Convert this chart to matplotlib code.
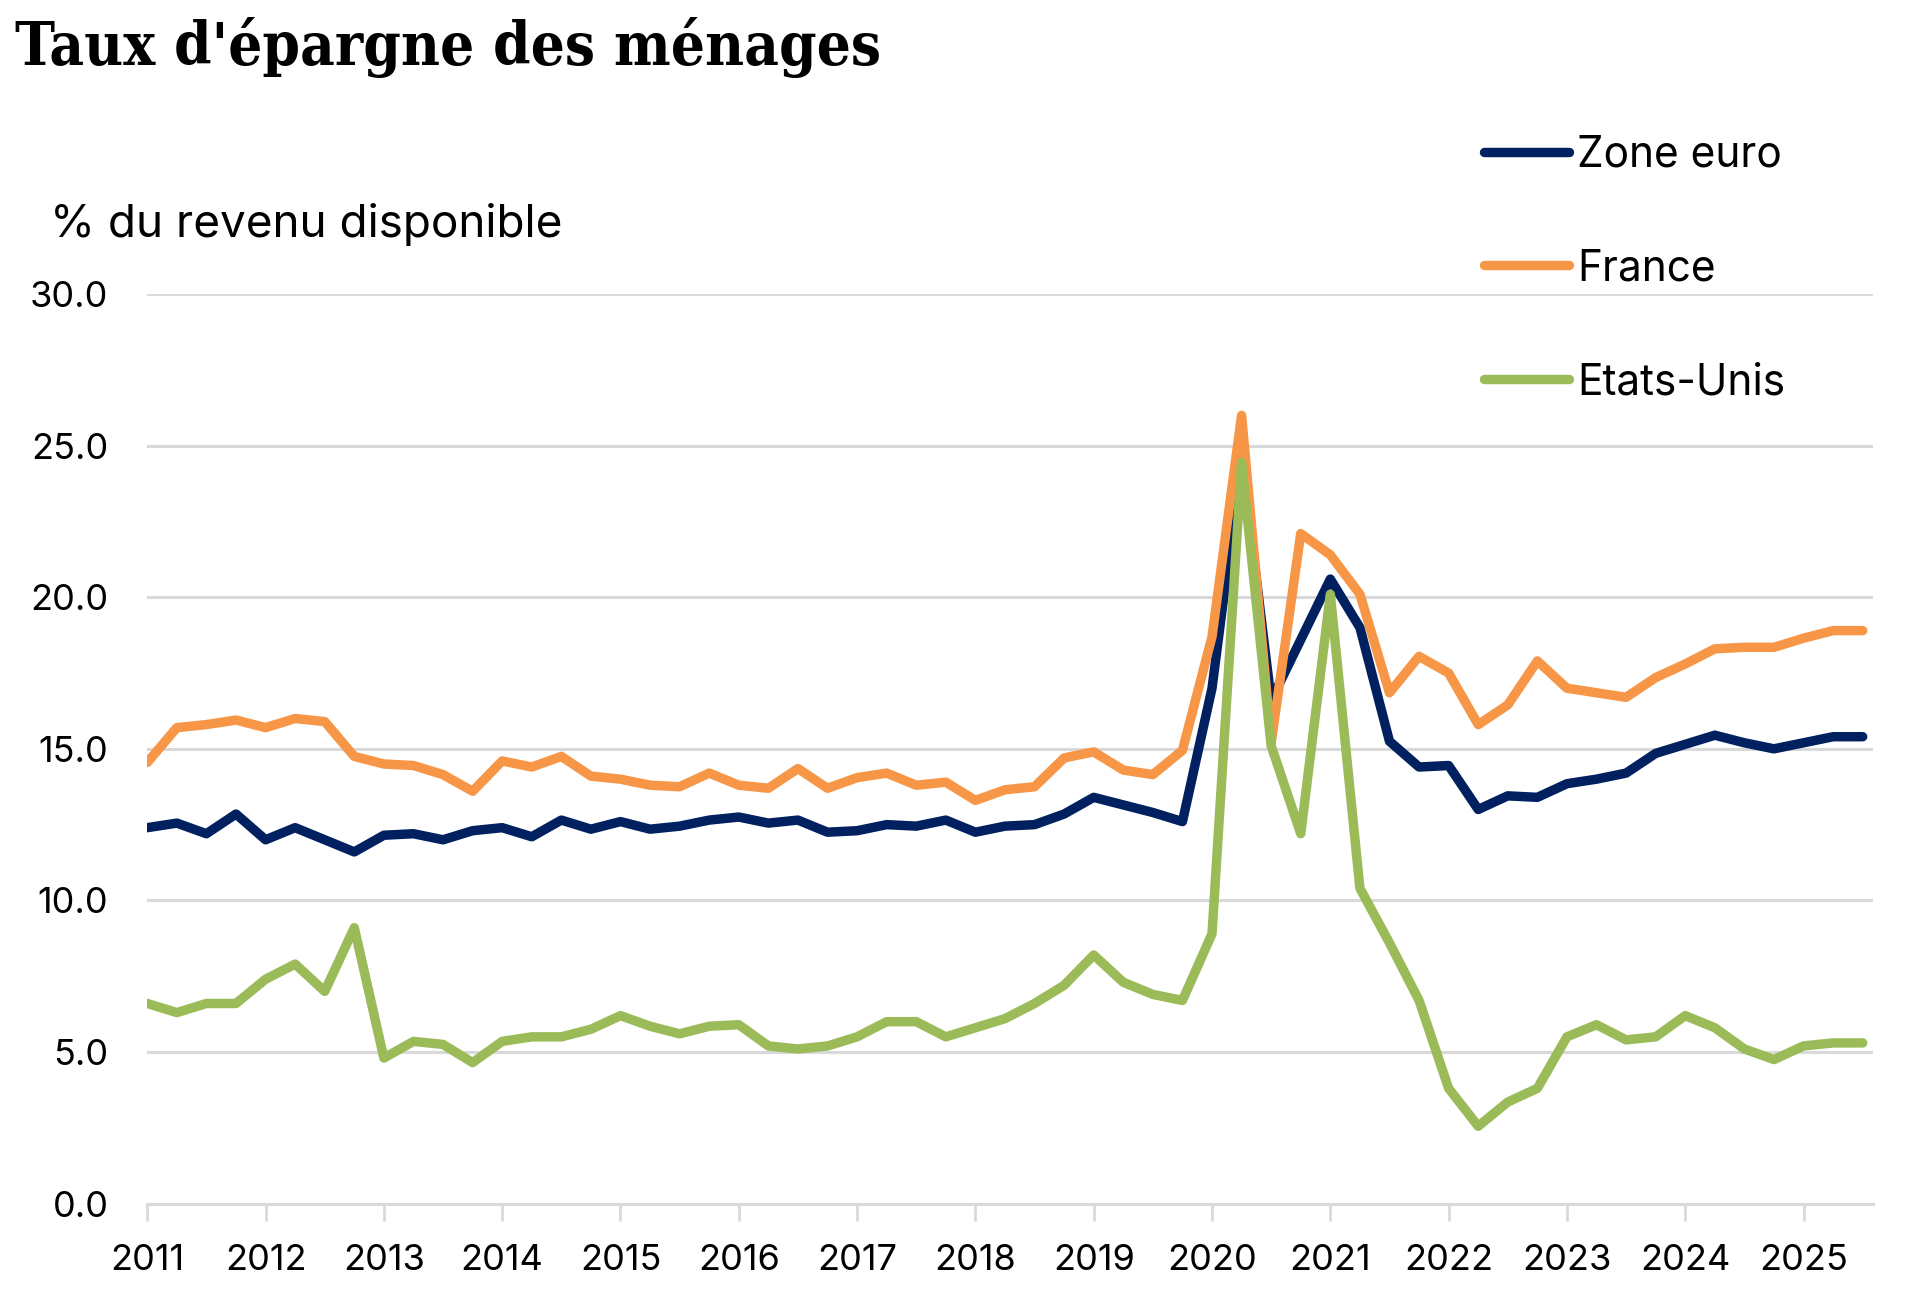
import matplotlib
matplotlib.use('Agg')
import matplotlib.pyplot as plt
import pandas as pd

# quarterly data, 2011Q1 - 2025Q3
quarters = pd.period_range('2011Q1', '2025Q3', freq='Q')

zone_euro = [12.4, 12.55, 12.2, 12.85, 12.0, 12.4, 12.0, 11.6, 12.15, 12.2,
             12.0, 12.3, 12.4, 12.1, 12.65, 12.35, 12.6, 12.35, 12.45, 12.65,
             12.75, 12.55, 12.65, 12.25, 12.3, 12.5, 12.45, 12.65, 12.25, 12.45,
             12.5, 12.85, 13.4, 13.15, 12.9, 12.6, 17.0, 24.6, 16.6, 18.6,
             20.6, 19.0, 15.25, 14.4, 14.45, 13.0, 13.45, 13.4, 13.85, 14.0,
             14.2, 14.85, 15.15, 15.45, 15.2, 15.0, 15.2, 15.4, 15.4]

france = [14.55, 15.7, 15.8, 15.95, 15.7, 16.0, 15.9, 14.75, 14.5, 14.45,
          14.15, 13.6, 14.6, 14.4, 14.75, 14.1, 14.0, 13.8, 13.75, 14.2,
          13.8, 13.7, 14.35, 13.7, 14.05, 14.2, 13.8, 13.9, 13.3, 13.65,
          13.75, 14.7, 14.9, 14.3, 14.15, 14.95, 18.7, 26.0, 15.2, 22.1,
          21.4, 20.1, 16.85, 18.05, 17.5, 15.8, 16.45, 17.9, 17.0, 16.85,
          16.7, 17.35, 17.8, 18.3, 18.35, 18.35, 18.65, 18.9, 18.9]

etats_unis = [6.6, 6.3, 6.6, 6.6, 7.4, 7.9, 7.0, 9.1, 4.8, 5.35,
              5.25, 4.65, 5.35, 5.5, 5.5, 5.75, 6.2, 5.85, 5.6, 5.85,
              5.9, 5.2, 5.1, 5.2, 5.5, 6.0, 6.0, 5.5, 5.8, 6.1,
              6.6, 7.2, 8.2, 7.3, 6.9, 6.7, 8.9, 24.45, 15.1, 12.2,
              20.1, 10.4, 8.6, 6.7, 3.8, 2.55, 3.35, 3.8, 5.5, 5.9,
              5.4, 5.5, 6.2, 5.8, 5.1, 4.75, 5.2, 5.3, 5.3]

years = list(range(2011, 2026))
yticks = [0, 5, 10, 15, 20, 25, 30]

x = [q.year + (q.quarter - 1) / 4 for q in quarters]

c_euro = '#002060'
c_fr = '#F79646'
c_us = '#9BBB59'
grid_c = '#D9D9D9'

fig = plt.figure(figsize=(19.2, 12.9), dpi=100)
ax = fig.add_axes([0.0767, 0.067, 0.899, 0.705])

lw = 6.8
ax.plot(x, zone_euro, color=c_euro, lw=lw, label='Zone euro',
        solid_capstyle='round', solid_joinstyle='round', zorder=3)
ax.plot(x, france, color=c_fr, lw=lw, label='France',
        solid_capstyle='round', solid_joinstyle='round', zorder=4)
ax.plot(x, etats_unis, color=c_us, lw=lw, label='Etats-Unis',
        solid_capstyle='round', solid_joinstyle='round', zorder=5)

ax.set_xlim(2011, 2025.59)
ax.set_ylim(0, 30)
ax.set_yticks(yticks)
ax.set_yticklabels([f'{v:.1f}' for v in yticks])
ax.set_xticks(years)
ax.set_xticklabels([str(y) for y in years])
ax.grid(axis='y', color=grid_c, lw=2.2)
ax.set_axisbelow(True)

for s in ['top', 'right', 'left']:
    ax.spines[s].set_visible(False)
ax.spines['bottom'].set_color(grid_c)
ax.spines['bottom'].set_linewidth(2.2)

tick_font = ['Inter', 'DejaVu Sans']
ax.tick_params(axis='y', length=0, pad=28, labelsize=26)
ax.tick_params(axis='x', length=12, width=2, color=grid_c, pad=17, labelsize=26)
for lab in ax.get_xticklabels() + ax.get_yticklabels():
    lab.set_fontfamily(tick_font)

fig.text(0.008, 0.963, "Taux d'épargne des ménages", fontsize=43,
         fontweight='bold', fontstretch='condensed', family='DejaVu Serif',
         va='center', ha='left')
fig.text(0.026, 0.826, '% du revenu disponible', fontsize=33,
         family=tick_font, va='center', ha='left')

fig.legend(loc='upper left', bbox_to_anchor=(0.764, 0.909), frameon=False,
           prop={'family': 'Inter', 'size': 30.5}, handlelength=2.0,
           handletextpad=0.2, labelspacing=1.72, borderaxespad=0)

fig.savefig('out.png', dpi=100, facecolor='white')
